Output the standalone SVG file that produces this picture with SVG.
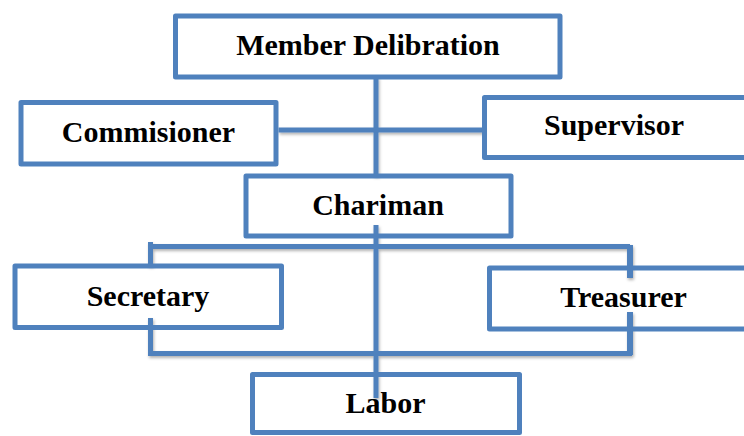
<svg xmlns="http://www.w3.org/2000/svg" width="744" height="436" viewBox="0 0 744 436">
  <defs>
    <filter id="lineShadow" x="-5%" y="-50%" width="110%" height="200%">
      <feDropShadow dx="1" dy="2" stdDeviation="1.4" flood-color="#000" flood-opacity="0.3"/>
    </filter>
  </defs>
  <style>
    .box { fill: none; stroke: #4F81BD; stroke-width: 5; stroke-linejoin: round; }
    .lbl { font-family: "Liberation Serif", "Times New Roman", serif; font-weight: bold; font-size: 30px; fill: #000; text-anchor: middle; }
    .conn { stroke: #4F81BD; stroke-width: 5; fill: none; }
    .stub { stroke: #4F81BD; stroke-width: 6; fill: none; }
  </style>
  <rect width="744" height="436" fill="#fff"/>

  <!-- connectors -->
  <g id="connectors" filter="url(#lineShadow)">
    <line class="conn" x1="376" y1="77" x2="376" y2="176"/>
    <line class="conn" x1="278.5" y1="130" x2="484" y2="130"/>
    <line class="conn" x1="376" y1="225" x2="376" y2="398"/>
    <line class="conn" x1="148" y1="246.5" x2="630" y2="246.5"/>
    <line class="conn" x1="150.5" y1="242" x2="150.5" y2="266"/>
    <line class="stub" x1="630" y1="245" x2="630" y2="278"/>
    <line class="conn" x1="150.5" y1="353.5" x2="632" y2="353.5"/>
    <line class="conn" x1="150.5" y1="318" x2="150.5" y2="356"/>
    <line class="stub" x1="630" y1="312" x2="630" y2="355"/>
  </g>

  <g id="member-delibration">
    <rect class="box" x="175.5" y="16" width="384.5" height="61"/>
    <text class="lbl" x="368" y="55">Member Delibration</text>
  </g>
  <g id="commisioner">
    <rect class="box" x="21" y="102.5" width="255" height="61.5"/>
    <text class="lbl" x="148.5" y="142">Commisioner</text>
  </g>
  <g id="supervisor">
    <rect class="box" x="484.5" y="97.5" width="265" height="60"/>
    <text class="lbl" x="614" y="135">Supervisor</text>
  </g>
  <g id="chariman">
    <rect class="box" x="246" y="176" width="265" height="60"/>
    <text class="lbl" x="378" y="215">Chariman</text>
  </g>
  <g id="secretary">
    <rect class="box" x="15" y="266" width="266.5" height="61.5"/>
    <text class="lbl" x="148" y="306">Secretary</text>
  </g>
  <g id="treasurer">
    <rect class="box" x="489.5" y="268" width="260" height="61"/>
    <text class="lbl" x="623.5" y="307">Treasurer</text>
  </g>
  <g id="labor">
    <rect class="box" x="252.5" y="374.5" width="267" height="58"/>
    <text class="lbl" x="385.5" y="413">Labor</text>
  </g>
</svg>
